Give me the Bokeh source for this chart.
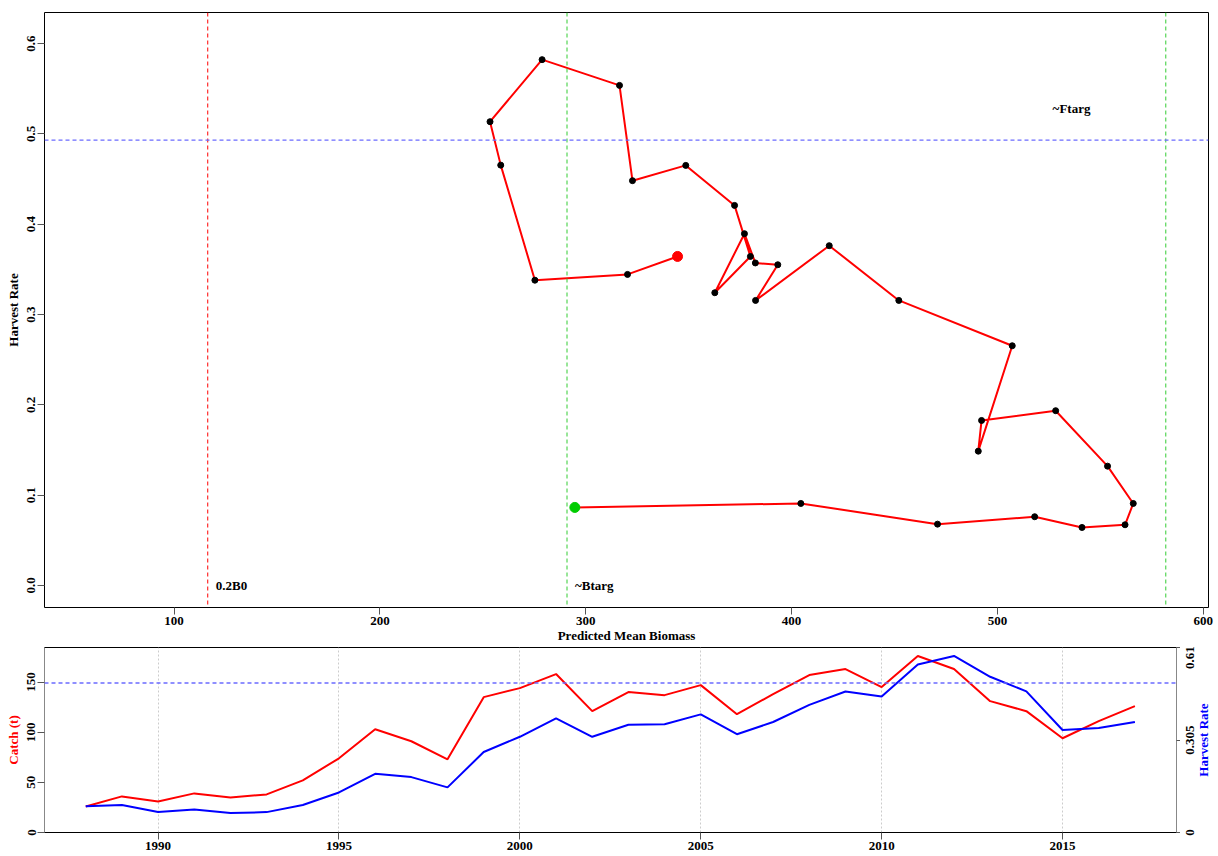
import math
from bokeh.plotting import figure
from bokeh.models import (LinearAxis, Range1d, FixedTicker, Span, Label)
from bokeh.core.properties import value
from bokeh.layouts import column, row
from bokeh.embed import file_html
from bokeh.resources import INLINE

# ---------------- data ----------------
years = list(range(1988, 2018))
biomass = [294.7, 404.5, 470.9, 518.1, 541.1, 562.0, 566.0, 553.5, 528.3, 492.3,
           490.7, 507.2, 452.1, 418.3, 382.5, 393.3, 382.4, 377.1, 362.7, 380.0,
           372.3, 348.6, 322.7, 316.4, 278.8, 253.5, 258.7, 275.3, 320.3, 344.6]
harvest_rate = [0.0864, 0.0908, 0.0679, 0.0761, 0.0642, 0.0672, 0.0908, 0.1321, 0.1935, 0.1827,
                0.1487, 0.2654, 0.3156, 0.3762, 0.3156, 0.3551, 0.3571, 0.3895, 0.3241, 0.3643,
                0.4208, 0.4651, 0.4482, 0.5537, 0.5822, 0.5135, 0.4654, 0.3380, 0.3444, 0.3643]
catch = [26, 36, 31, 39, 35, 38, 52, 74, 103, 91,
         73, 135, 144, 158, 121, 140, 137, 147, 118, 138,
         157, 163, 145, 176, 163, 131, 121, 94, 111, 126]

B0 = 581.8
ftarg = 0.493
x_ticks = [100, 200, 300, 400, 500, 600]
hr_ticks = [0.0, 0.1, 0.2, 0.3, 0.4, 0.5, 0.6]
hr_tick_labels = ["0.0", "0.1", "0.2", "0.3", "0.4", "0.5", "0.6"]
catch_ticks = [0, 50, 100, 150]
year_ticks = [1990, 1995, 2000, 2005, 2010, 2015]
hr_right_ticks = [0, 0.305, 0.61]
hr_right_labels = ["0", "0.305", "0.61"]

FONT = "Liberation Serif"
FS = "13px"
TICKC = "#555555"


def style_axis(ax, color="black"):
    ax.major_label_text_font = FONT
    ax.major_label_text_font_size = FS
    ax.major_label_text_font_style = "bold"
    ax.major_label_text_color = "black"
    ax.axis_label_text_font = FONT
    ax.axis_label_text_font_size = FS
    ax.axis_label_text_font_style = "bold"
    ax.axis_label_text_color = color
    ax.major_tick_in = 0
    ax.major_tick_out = 7
    ax.major_tick_line_color = TICKC
    ax.minor_tick_line_color = None
    ax.major_label_standoff = 2


# ---------------- top: phase plot ----------------
p = figure(width=1218, height=645, x_range=Range1d(37.05, 602.55), y_range=Range1d(-0.0244, 0.6344),
           output_backend="svg", toolbar_location=None,
           min_border_left=44, min_border_right=10, min_border_top=12, min_border_bottom=38)
p.outline_line_color = "black"
p.outline_line_width = 1
p.xgrid.visible = False
p.ygrid.visible = False

p.xaxis.ticker = FixedTicker(ticks=x_ticks)
p.xaxis.axis_label = "Predicted Mean Biomass"
p.yaxis.ticker = FixedTicker(ticks=hr_ticks)
p.yaxis.major_label_overrides = {t: l for t, l in zip(hr_ticks, hr_tick_labels)}
p.yaxis.axis_label = "Harvest Rate"
p.yaxis.major_label_orientation = "vertical"
for ax in (p.xaxis[0], p.yaxis[0]):
    style_axis(ax)
    ax.axis_line_color = None
p.xaxis.axis_label_standoff = 0
p.yaxis.axis_label_standoff = 4

p.add_layout(Span(location=0.2 * B0, dimension="height", line_color="#ff0000", line_dash="4 3", line_width=1))
p.add_layout(Span(location=0.5 * B0, dimension="height", line_color="#33cc33", line_dash="4 3", line_width=1))
p.add_layout(Span(location=B0, dimension="height", line_color="#33cc33", line_dash="4 3", line_width=1))
p.add_layout(Span(location=ftarg, dimension="width", line_color="#6b6bff", line_dash="4 3", line_width=1.3))

p.line(biomass, harvest_rate, line_color="red", line_width=2)
p.scatter(biomass, harvest_rate, size=6, color="black")
p.scatter(biomass[:1], harvest_rate[:1], size=10, color="#00cc00")
p.scatter(biomass[-1:], harvest_rate[-1:], size=10, color="red")

for txt, xx, yy, xo, align in [("0.2B0", 0.2 * B0, 0.0, 8, "left"),
                               ("~Btarg", 0.5 * B0, 0.0, 8, "left"),
                               ("~Ftarg", 536.0, 0.5285, 0, "center")]:
    p.add_layout(Label(x=xx, y=yy, x_offset=xo, text=txt, text_font=FONT, text_font_size=FS,
                       text_font_style="bold", text_align=align, text_baseline="middle",
                       text_color="black"))

# ---------------- bottom: time series ----------------
CMAX = 184.5
HRMAX = 0.61
QW, QH = 1180, 211
q = figure(width=QW, height=QH, x_range=Range1d(1986.86, 2018.15), y_range=Range1d(0, CMAX),
           output_backend="svg", toolbar_location=None,
           min_border_left=44, min_border_right=4, min_border_top=2, min_border_bottom=24)
q.extra_y_ranges = {"hr": Range1d(0, HRMAX)}
q.outline_line_color = "black"
q.ygrid.visible = False
q.xgrid.ticker = FixedTicker(ticks=year_ticks)
q.xgrid.grid_line_color = "#cccccc"
q.xgrid.grid_line_dash = "2 2"

q.xaxis.ticker = FixedTicker(ticks=year_ticks)
q.yaxis.ticker = FixedTicker(ticks=catch_ticks)
q.yaxis.axis_label = "Catch (t)"
q.yaxis.major_label_orientation = "vertical"
style_axis(q.xaxis[0])
style_axis(q.yaxis[0], color="red")
q.xaxis.axis_line_color = "black"
q.yaxis.axis_line_color = "#888888"
q.yaxis.axis_label_standoff = 4

# right axis line + ticks (its labels are drawn in the strip to the right, reading bottom-to-top)
ra = LinearAxis(y_range_name="hr", ticker=FixedTicker(ticks=hr_right_ticks),
                major_label_overrides={t: "" for t in hr_right_ticks})
style_axis(ra, color="blue")
ra.major_tick_out = 4
ra.major_label_standoff = 0
ra.major_label_text_font_size = "0px"
ra.axis_line_color = "#888888"
q.add_layout(ra, "right")

q.add_layout(Span(location=ftarg * CMAX / HRMAX, dimension="width", line_color="#6b6bff",
                  line_dash="4 3", line_width=1.3))
q.line(years, catch, line_color="red", line_width=2)
q.line(years, harvest_rate, line_color="blue", line_width=2, y_range_name="hr")

# right-hand strip
RW = 1218 - QW
frame_top_px, frame_bot_px = 2, 187          # q frame inside its canvas
per_px = HRMAX / (frame_bot_px - frame_top_px)
r = figure(width=RW, height=QH, x_range=Range1d(0, RW),
           y_range=Range1d(-(QH - frame_bot_px) * per_px, HRMAX + frame_top_px * per_px),
           output_backend="svg", toolbar_location=None, x_axis_type=None, y_axis_type=None,
           min_border=0, min_border_left=0, min_border_right=0, min_border_top=0, min_border_bottom=0)
r.outline_line_color = None
r.grid.visible = False
lab_y = [0.0, 0.305, 0.61 - 10 * per_px]
r.text(x=[9.5] * 3, y=lab_y, text=hr_right_labels, angle=math.pi / 2,
       text_font=value(FONT), text_font_size=value(FS), text_font_style="bold",
       text_align="center", text_baseline="middle", text_color="black")
r.text(x=[22.5], y=[HRMAX / 2], text=["Harvest Rate"], angle=math.pi / 2,
       text_font=value(FONT), text_font_size=value(FS), text_font_style="bold",
       text_align="center", text_baseline="middle", text_color="blue")

layout = column(column(p), row(column(q), column(r), spacing=0), spacing=0)
open("out.html", "w").write(file_html(layout, INLINE))
